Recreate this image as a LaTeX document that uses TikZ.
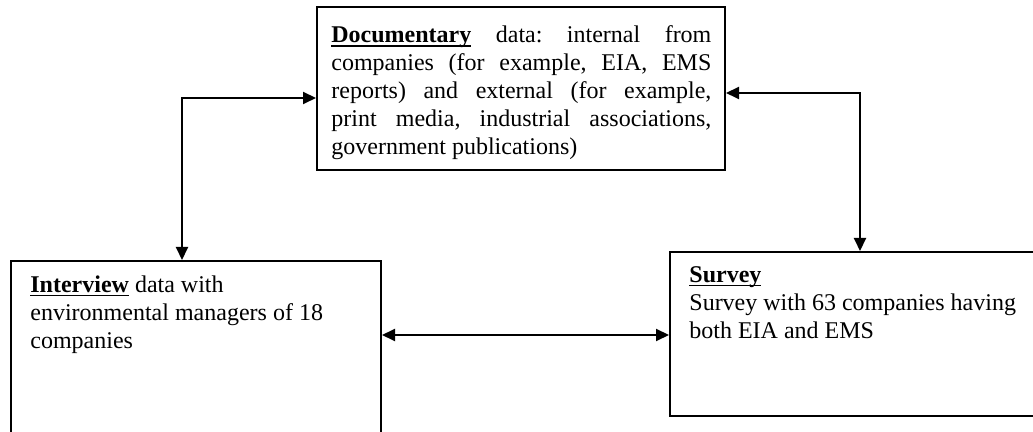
\documentclass[tikz,border=0pt]{standalone}
\usepackage{fontspec}
\setmainfont{Liberation Serif}
\usetikzlibrary{arrows.meta}
\newlength\ulwidth
% bold heading with a rule set just under the baseline
\newcommand\ulhead[1]{\settowidth\ulwidth{\textbf{#1}}\textbf{#1}\hspace{-\ulwidth}\rule[-1.9pt]{\ulwidth}{0.75pt}}
\begin{document}
\begin{tikzpicture}[x=0.5pt,y=-0.5pt,
  frame/.style={draw, line width=1pt, inner sep=0pt},
  txt/.style={inner sep=0pt, anchor=north west,
    execute at begin node={\fontsize{12}{14}\selectfont\frenchspacing\baselineskip=14pt\relax}},
  link/.style={line width=1pt,
    {Triangle[length=6.5pt,width=6pt]}-{Triangle[length=6.5pt,width=6pt]}}]
\clip (0,0) rectangle (1033,432);

% documentary sources
\node[frame, minimum width=204pt, minimum height=81.5pt] (doc) at (521,88.5) {};
\node[txt, text width=190pt, align=justify] (doct) at (331,25.6)
  {\ulhead{Documentary} data: internal from\linebreak
   companies (for example, EIA, EMS\linebreak
   reports) and external (for example,\linebreak
   print media, industrial associations,\linebreak
   government publications)};

% interview box (runs past the lower edge)
\node[frame, minimum width=185pt, minimum height=92pt] (iv) at (196,353) {};
\node[txt, align=left] (ivt) at (30,275.5)
  {\ulhead{Interview} data with\\
   environmental managers of 18\\
   companies};

% survey box (runs past the right edge)
\node[frame, minimum width=187.5pt, minimum height=82pt] (sv) at (857.5,334) {};
\node[txt, align=left] (svt) at (689,266)
  {\ulhead{Survey}\\
   Survey with 63 companies having\\
   both EIA and EMS};

% connectors
\coordinate (a1) at (182,98);
\coordinate (a2) at (860,93);
\coordinate (a3) at (0,335);
\draw[link] (doc.west |- a1) -| (iv.north -| a1);
\draw[link] (doc.east |- a2) -| (sv.north -| a2);
\draw[link] (iv.east |- a3) -- (sv.west |- a3);
\end{tikzpicture}
\end{document}
